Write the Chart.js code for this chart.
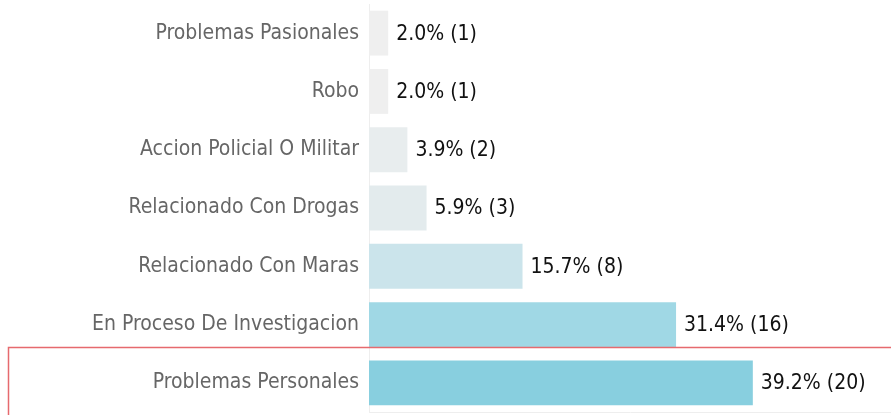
<!DOCTYPE html>
<html>
<head>
<meta charset="utf-8">
<script src="https://cdn.jsdelivr.net/npm/chart.js@4/dist/chart.umd.min.js"></script>
<style>
html,body{margin:0;padding:0;background:#fff;}
#wrap{width:891px;height:415px;position:relative;}
</style>
</head>
<body>
<div id="wrap"><canvas id="c" width="891" height="415"></canvas></div>
<script>
const categories = ["Problemas Pasionales","Robo","Accion Policial O Militar","Relacionado Con Drogas","Relacionado Con Maras","En Proceso De Investigacion","Problemas Personales"];
const counts = [1,1,2,3,8,16,20];
const percents = [2.0,2.0,3.9,5.9,15.7,31.4,39.2];
const barColors = ["#efefef","#efefef","#e8edee","#e3ebed","#cbe4eb","#a0d8e5","#88cfdf"];
const highlightIndex = 6;

const FONT = '"DejaVu Sans Condensed", "Liberation Sans Narrow", "DejaVu Sans", sans-serif';

const valueLabels = {
  id:'valueLabels',
  afterDatasetsDraw(chart){
    const ctx = chart.ctx;
    const meta = chart.getDatasetMeta(0);
    ctx.save();
    ctx.font = '21px ' + FONT;
    ctx.fillStyle = '#111';
    ctx.textBaseline = 'middle';
    ctx.textAlign = 'left';
    meta.data.forEach((bar,i)=>{
      ctx.fillText(percents[i].toFixed(1)+'% ('+counts[i]+')', bar.x+8, bar.y+1);
    });
    ctx.restore();
  }
};
const highlight = {
  id:'highlight',
  afterDraw(chart){
    const ctx = chart.ctx;
    const y = chart.scales.y;
    const meta = chart.getDatasetMeta(0);
    const bar = meta.data[highlightIndex];
    const half = Math.abs(y.getPixelForValue(1)-y.getPixelForValue(0))/2;
    const top = Math.round(bar.y - half - 7) + 0.5;
    ctx.save();
    ctx.strokeStyle = '#e66a6e';
    ctx.lineWidth = 1.5;
    ctx.strokeRect(8.5, top, chart.width+10, chart.height);
    ctx.restore();
  }
};

new Chart(document.getElementById('c'),{
  type:'bar',
  data:{labels:categories,datasets:[{data:counts,backgroundColor:barColors,barPercentage:0.77,categoryPercentage:1}]},
  options:{
    indexAxis:'y',
    responsive:false,
    animation:false,
    layout:{padding:{top:4,bottom:2,left:0,right:0}},
    plugins:{legend:{display:false},tooltip:{enabled:false}},
    scales:{
      x:{min:0,max:27.2,display:true,ticks:{display:false},grid:{display:false,drawTicks:false},border:{display:true,color:'#eeeeee'},
         afterFit(s){s.height=1;}},
      y:{grid:{display:false,drawTicks:false},border:{display:true,color:'#eeeeee'},
         afterFit(s){s.width=369;s.paddingTop=0;s.paddingBottom=0;},
         ticks:{color:'#666',padding:10,font:{family:FONT,size:21}}}
    }
  },
  plugins:[valueLabels,highlight]
});
</script>
</body>
</html>
